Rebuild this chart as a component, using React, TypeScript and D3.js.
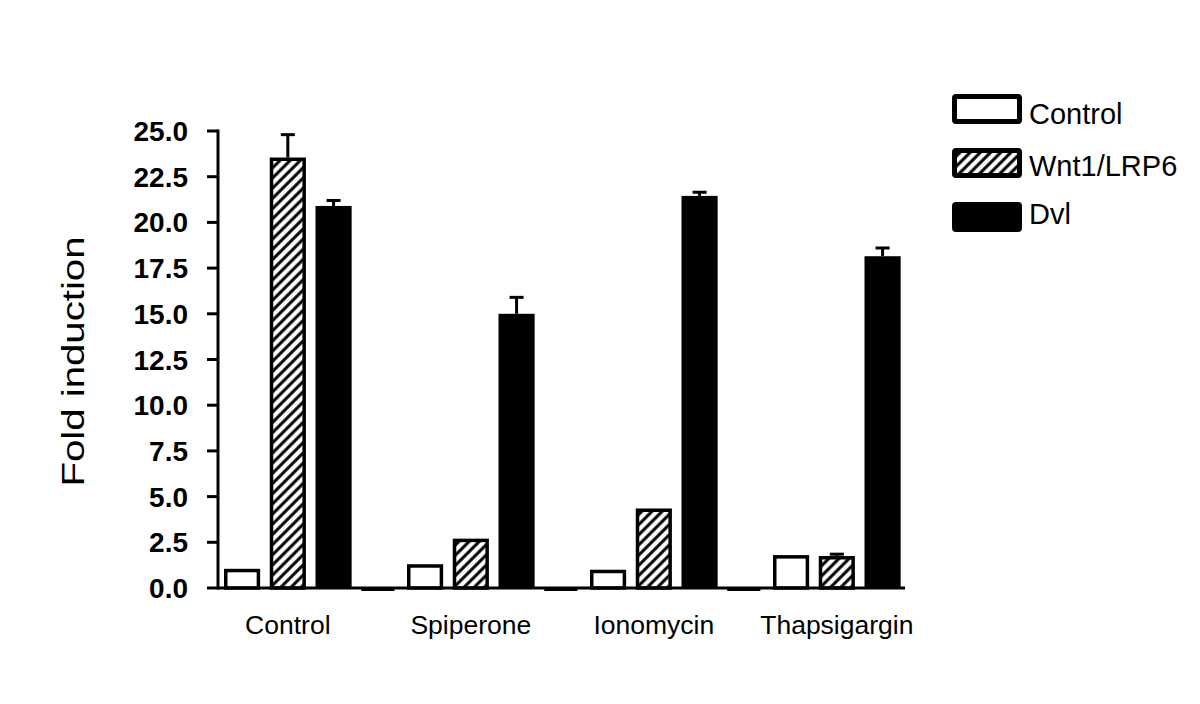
import React from "react";
import * as d3 from "d3";

const categories = ["Control", "Spiperone", "Ionomycin", "Thapsigargin"];
const seriesNames = ["Control", "Wnt1/LRP6", "Dvl"];
const controlValues = [1.05, 1.3, 1.0, 1.8];
const controlErr = [0, 0, 0, 0];
const wntValues = [23.55, 2.7, 4.35, 1.75];
const wntErr = [1.25, 0, 0, 0.1];
const dvlValues = [20.9, 15.0, 21.45, 18.15];
const dvlErr = [0.3, 0.9, 0.2, 0.45];
const spacerValues = [0, 0, 0];
const yTicks = [0, 2.5, 5, 7.5, 10, 12.5, 15, 17.5, 20, 22.5, 25];

const W = 1200;
const H = 704;

export default function App() {
  const y = d3.scaleLinear().domain([0, 25]).range([588, 131]);
  const gx = d3.scaleBand<string>().domain(categories).range([219.2, 219.2 + 4 * 183]);
  const slots = ["s0", "s1", "s2", "s3"];
  const sx = d3
    .scaleBand<string>()
    .domain(slots)
    .range([0, gx.bandwidth()])
    .paddingInner(0.21)
    .paddingOuter(0.105);
  const bw = sx.bandwidth();
  const axisLeft = 218;
  const axisRight = 905;
  const fmt = d3.format(".1f");
  const font = "'Liberation Sans', Arial, Helvetica, sans-serif";

  const series = [
    { name: seriesNames[0], values: controlValues, err: controlErr, fill: "#fff", stroke: true },
    { name: seriesNames[1], values: wntValues, err: wntErr, fill: "url(#hatch)", stroke: true },
    { name: seriesNames[2], values: dvlValues, err: dvlErr, fill: "#000", stroke: false },
  ];

  const legendRows = [
    { fill: "#fff", box: 94, base: 124 },
    { fill: "url(#hatch)", box: 148, base: 176 },
    { fill: "#000", box: 202, base: 224 },
  ];

  return (
    <svg
      width={W}
      height={H}
      style={{ position: "absolute", left: 0, top: 0, background: "#fff" }}
    >
      <defs>
        <pattern
          id="hatch"
          patternUnits="userSpaceOnUse"
          width={7.2}
          height={7.2}
          patternTransform="rotate(45)"
        >
          <rect width={7.2} height={7.2} fill="#fff" />
          <line x1={1.8} y1={0} x2={1.8} y2={7.2} stroke="#000" strokeWidth={3} />
        </pattern>
      </defs>
      <rect width={W} height={H} fill="#fff" />

      {/* bars */}
      {series.map((s, si) =>
        categories.map((c, ci) => {
          const x0 = (gx(c) ?? 0) + (sx(slots[si]) ?? 0);
          const v = s.values[ci];
          const top = y(v);
          const e = s.err[ci];
          const cx = x0 + bw / 2;
          return (
            <g key={`${si}-${ci}`}>
              {e > 0 && (
                <g stroke="#000" strokeWidth={3}>
                  <line x1={cx} x2={cx} y1={top} y2={y(v + e)} />
                  <line x1={cx - 7} x2={cx + 7} y1={y(v + e)} y2={y(v + e)} />
                </g>
              )}
              {s.stroke ? (
                <rect
                  x={x0 + 1.75}
                  y={top + 1.75}
                  width={bw - 3.5}
                  height={Math.max(0, y(0) - top - 1.75)}
                  fill={s.fill}
                  stroke="#000"
                  strokeWidth={3.5}
                />
              ) : (
                <rect x={x0} y={top} width={bw} height={y(0) - top} fill={s.fill} />
              )}
            </g>
          );
        })
      )}

      {/* zero spacer bars */}
      {spacerValues.map((v, i) => {
        const x0 = (gx(categories[i]) ?? 0) + (sx(slots[3]) ?? 0);
        return (
          <rect key={`sp${i}`} x={x0} y={y(v) - 1} width={bw - 3} height={4} fill="#000" />
        );
      })}

      {/* axes */}
      <line x1={axisLeft} x2={axisLeft} y1={y(25) - 1.5} y2={y(0) + 1.5} stroke="#000" strokeWidth={3} />
      <line x1={axisLeft} x2={axisRight} y1={y(0)} y2={y(0)} stroke="#000" strokeWidth={3} />
      {yTicks.map((t) => (
        <g key={t}>
          <line x1={207} x2={axisLeft} y1={y(t)} y2={y(t)} stroke="#000" strokeWidth={3} />
          <text
            x={188}
            y={y(t)}
            dy="0.36em"
            textAnchor="end"
            fontFamily={font}
            fontWeight="bold"
            fontSize={28}
            fill="#000"
          >
            {fmt(t)}
          </text>
        </g>
      ))}

      {/* category labels */}
      {categories.map((c) => {
        const cx =
          (gx(c) ?? 0) + ((sx(slots[0]) ?? 0) + (sx(slots[2]) ?? 0) + bw) / 2;
        return (
          <text
            key={c}
            x={cx}
            y={634}
            textAnchor="middle"
            fontFamily={font}
            fontSize={26.5}
            fill="#000"
          >
            {c}
          </text>
        );
      })}

      {/* y title */}
      <text
        transform={`translate(84, ${y(12.5) + 2}) rotate(-90)`}
        textAnchor="middle"
        fontFamily={font}
        fontSize={32}
        textLength={250}
        lengthAdjust="spacingAndGlyphs"
        fill="#000"
      >
        Fold induction
      </text>

      {/* legend */}
      {legendRows.map((r, i) => (
        <g key={i}>
          <rect
            x={954.5}
            y={r.box + 2.5}
            width={65}
            height={25}
            fill={r.fill}
            stroke="#000"
            strokeWidth={5}
            rx={1.5}
          />
          <text x={1029} y={r.base} fontFamily={font} fontSize={29} fill="#000">
            {seriesNames[i]}
          </text>
        </g>
      ))}
    </svg>
  );
}
